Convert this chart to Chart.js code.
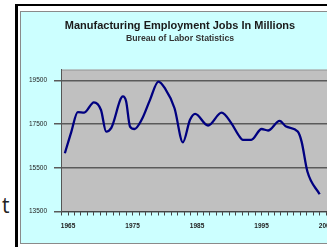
<!DOCTYPE html>
<html>
<head>
<meta charset="utf-8">
<script src="https://cdn.jsdelivr.net/npm/chart.js@4/dist/chart.umd.min.js"></script>
<style>
  html, body { margin: 0; padding: 0; background: #fff; width: 327px; height: 247px; overflow: hidden; }
  #frame { position: absolute; left: 15px; top: 4px; width: 400px; height: 260px;
           border-left: 3px solid #000; border-top: 2px solid #000; }
  #panel { position: absolute; left: 20px; top: 11px; width: 400px; height: 231px;
           background: #ccffff; border: 1px solid #8a8a8a; }
  #cut { position: absolute; left: 2px; top: 195px; font: 21px/21px "Open Sans", sans-serif; color: #222; }
  canvas { position: absolute; left: 0; top: 0; }
</style>
</head>
<body>
<div id="frame"></div>
<div id="panel"></div>
<div id="cut">t</div>
<canvas id="chart" width="400" height="247"></canvas>
<script>
const years = [1964.5, 1965.5, 1966.5, 1967.5, 1969.0, 1970.1, 1970.9, 1971.7, 1973.5, 1974.0,
  1974.6, 1975.3, 1976.4, 1977.7, 1979.0, 1980.0, 1981.5, 1982.8, 1983.9, 1984.7,
  1986.7, 1988.8, 1990.3, 1991.4, 1992.1, 1993.4, 1995.0, 1996.0, 1997.8, 1998.8,
  2000.6, 2001.2, 2002.1, 2004.0];
const jobs = [16170, 17150, 18050, 18030, 18500, 18150, 17160, 17330, 18770, 18540,
  17390, 17280, 17700, 18615, 19450, 19150, 18230, 16670, 17700, 17970,
  17440, 18030, 17550, 17010, 16780, 16780, 17280, 17210, 17650, 17390,
  17160, 16700, 15330, 14290];
const yTicks = [13500, 15500, 17500, 19500];
const labelEvery = 10; // year labels 1965, 1975, ...

const plotBg = {
  id: 'plotBg',
  beforeDraw(chart) {
    const { ctx, chartArea: a } = chart;
    ctx.save();
    ctx.fillStyle = '#c0c0c0';
    ctx.fillRect(a.left, a.top, a.right - a.left, a.bottom - a.top);
    ctx.strokeStyle = '#9a9a9a';
    ctx.lineWidth = 1;
    ctx.beginPath();
    ctx.moveTo(a.left, a.top + 0.5);
    ctx.lineTo(a.right, a.top + 0.5);
    ctx.stroke();
    ctx.restore();
  }
};

new Chart(document.getElementById('chart'), {
  type: 'line',
  data: {
    datasets: [{
      data: years.map((x, i) => ({ x, y: jobs[i] })),
      borderColor: '#000080',
      borderWidth: 2.3,
      pointRadius: 0,
      cubicInterpolationMode: 'monotone',
      fill: false
    }]
  },
  options: {
    responsive: false,
    animation: false,
    layout: { padding: { left: 21, right: 61, top: 11, bottom: 4 } },
    plugins: {
      legend: { display: false },
      tooltip: { enabled: false },
      title: {
        display: true,
        text: 'Manufacturing Employment Jobs In Millions',
        color: '#1a1a1a',
        font: { family: '"Liberation Sans", Arial, sans-serif', size: 11, weight: 'bold', lineHeight: 1.2 },
        padding: { top: 8.5, bottom: 0 }
      },
      subtitle: {
        display: true,
        text: 'Bureau of Labor Statistics',
        color: '#333',
        font: { family: '"Liberation Sans", Arial, sans-serif', size: 8.7, weight: 'bold', lineHeight: 1.3 },
        padding: { top: 0.6, bottom: 25 }
      }
    },
    scales: {
      x: {
        type: 'linear',
        min: 1963.9,
        max: 2007.0,
        afterFit: (s) => { s.height = 31.5; },
        border: { color: '#444', width: 1 },
        grid: { drawOnChartArea: false, drawTicks: true, tickLength: 4, color: '#444' },
        ticks: {
          stepSize: 1,
          autoSkip: false,
          maxRotation: 0,
          includeBounds: false,
          padding: 7,
          color: '#222',
          font: { family: '"Liberation Sans", Arial, sans-serif', size: 6.5, weight: 'bold' },
          callback: (v) => (Math.round(v) % labelEvery === 5 ? String(Math.round(v)) : '')
        }
      },
      y: {
        min: 13500,
        max: 20000,
        afterFit: (s) => { s.width = 40; },
        afterBuildTicks: (s) => { s.ticks = yTicks.map((value) => ({ value })); },
        border: { color: '#555', width: 1 },
        grid: { color: '#5a5a5a', lineWidth: 1.5, tickLength: 7 },
        ticks: {
          padding: 7,
          color: '#222',
          font: { family: '"Liberation Sans", Arial, sans-serif', size: 6.5 },
          callback: (v) => String(v)
        }
      }
    }
  },
  plugins: [plotBg]
});
</script>
</body>
</html>
